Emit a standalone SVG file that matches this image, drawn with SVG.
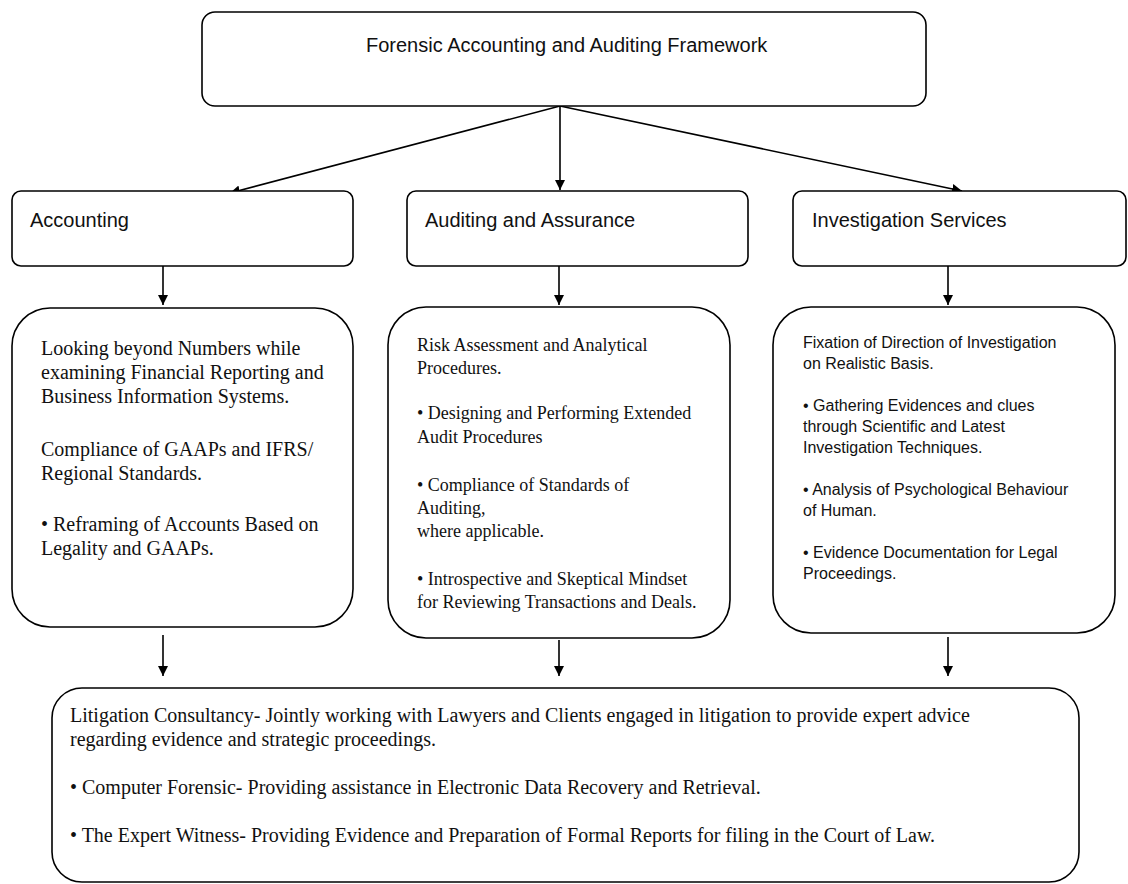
<svg xmlns="http://www.w3.org/2000/svg" width="1128" height="884" viewBox="0 0 1128 884">
<defs>
<style>
.box{fill:#fff;stroke:#000;stroke-width:1.6}
.hdr{font-family:"Liberation Sans",Arial,sans-serif;font-size:20px;fill:#111}
.tm{font-family:"Liberation Serif","Times New Roman",serif;font-size:20px;fill:#111}
.tm18{font-family:"Liberation Serif","Times New Roman",serif;font-size:18px;fill:#111}
.ar{font-family:"Liberation Sans",Arial,sans-serif;font-size:16px;fill:#111}
.con{stroke:#000;stroke-width:1.6;fill:none;marker-end:url(#ah)}
</style>
<marker id="ah" viewBox="0 0 10 10" refX="10" refY="5" markerWidth="10" markerHeight="10" markerUnits="userSpaceOnUse" orient="auto">
<path d="M0,0 L10,5 L0,10 Z" fill="#000"/>
</marker>
</defs>
<rect width="1128" height="884" fill="#fff"/>

<g id="connectors">
<line class="con" x1="560" y1="106" x2="230" y2="193"/>
<line class="con" x1="560" y1="106" x2="560" y2="190"/>
<line class="con" x1="560" y1="106" x2="962" y2="191"/>
<line class="con" x1="163" y1="266" x2="163" y2="305"/>
<line class="con" x1="559" y1="266" x2="559" y2="305"/>
<line class="con" x1="948" y1="266" x2="948" y2="305"/>
<line class="con" x1="163" y1="635" x2="163" y2="676"/>
<line class="con" x1="559" y1="640" x2="559" y2="676"/>
<line class="con" x1="948" y1="637" x2="948" y2="676"/>
</g>

<g id="root">
<rect class="box" x="202" y="12" width="724" height="94" rx="13" stroke-width="2"/>
<text class="hdr" x="366" y="52">Forensic Accounting and Auditing Framework</text>
</g>

<g id="accounting">
<rect class="box" x="12" y="191" width="341" height="75" rx="9"/>
<text class="hdr" x="30" y="227">Accounting</text>
</g>

<g id="auditing">
<rect class="box" x="407" y="191" width="341" height="75" rx="9"/>
<text class="hdr" x="425" y="227">Auditing and Assurance</text>
</g>

<g id="investigation">
<rect class="box" x="793" y="191" width="333" height="75" rx="9"/>
<text class="hdr" x="812" y="227">Investigation Services</text>
</g>

<g id="accounting-detail">
<rect class="box" x="12" y="308" width="341" height="319" rx="38"/>
<text class="tm" x="41" y="355">Looking beyond Numbers while</text>
<text class="tm" x="41" y="379">examining Financial Reporting and</text>
<text class="tm" x="41" y="403">Business Information Systems.</text>
<text class="tm" x="41" y="456">Compliance of GAAPs and IFRS/</text>
<text class="tm" x="41" y="480">Regional Standards.</text>
<text class="tm" x="41" y="531">• Reframing of Accounts Based on</text>
<text class="tm" x="41" y="555">Legality and GAAPs.</text>
</g>

<g id="auditing-detail">
<rect class="box" x="388" y="307" width="342" height="331" rx="38"/>
<text class="tm18" x="417" y="351">Risk Assessment and Analytical</text>
<text class="tm18" x="417" y="374">Procedures.</text>
<text class="tm18" x="417" y="419">• Designing and Performing Extended</text>
<text class="tm18" x="417" y="443">Audit Procedures</text>
<text class="tm18" x="417" y="491">• Compliance of Standards of</text>
<text class="tm18" x="417" y="514">Auditing,</text>
<text class="tm18" x="417" y="537">where applicable.</text>
<text class="tm18" x="417" y="585">• Introspective and Skeptical Mindset</text>
<text class="tm18" x="417" y="608">for Reviewing Transactions and Deals.</text>
</g>

<g id="investigation-detail">
<rect class="box" x="773" y="307" width="342" height="326" rx="38"/>
<text class="ar" x="803" y="348">Fixation of Direction of Investigation</text>
<text class="ar" x="803" y="369">on Realistic Basis.</text>
<text class="ar" x="803" y="411">• Gathering Evidences and clues</text>
<text class="ar" x="803" y="432">through Scientific and Latest</text>
<text class="ar" x="803" y="453">Investigation Techniques.</text>
<text class="ar" x="803" y="495">• Analysis of Psychological Behaviour</text>
<text class="ar" x="803" y="516">of Human.</text>
<text class="ar" x="803" y="558">• Evidence Documentation for Legal</text>
<text class="ar" x="803" y="579">Proceedings.</text>
</g>

<g id="services">
<rect class="box" x="52" y="688" width="1027" height="194" rx="30"/>
<text class="tm" x="70" y="722">Litigation Consultancy- Jointly working with Lawyers and Clients engaged in litigation to provide expert advice</text>
<text class="tm" x="70" y="746">regarding evidence and strategic proceedings.</text>
<text class="tm" x="70" y="794">• Computer Forensic- Providing assistance in Electronic Data Recovery and Retrieval.</text>
<text class="tm" x="70" y="842">• The Expert Witness- Providing Evidence and Preparation of Formal Reports for filing in the Court of Law.</text>
</g>
</svg>
